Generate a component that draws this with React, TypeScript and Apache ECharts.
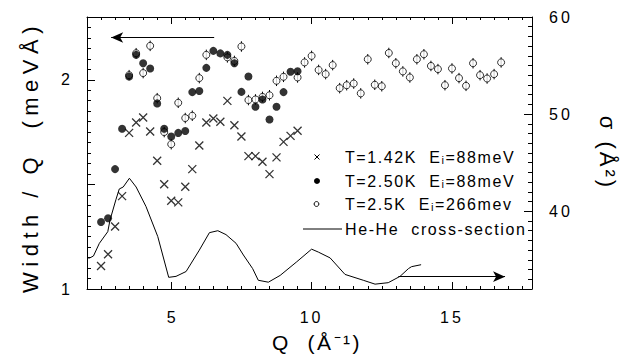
import { useEffect, useRef } from "react";
import * as echarts from "echarts";

// T = 1.42 K, Ei = 88 meV  (crosses)
const crossQ = [2.5, 2.75, 3, 3.25, 3.5, 3.75, 4, 4.25, 4.5, 4.75, 5, 5.25, 5.5, 5.75, 6, 6.25, 6.5, 6.75, 7, 7.25, 7.5, 7.75, 8, 8.25, 8.5, 8.75, 9, 9.25, 9.5];
const crossW = [1.110, 1.166, 1.299, 1.444, 1.746, 1.796, 1.820, 1.753, 1.613, 1.501, 1.422, 1.414, 1.489, 1.573, 1.686, 1.796, 1.815, 1.799, 1.899, 1.783, 1.729, 1.635, 1.635, 1.608, 1.549, 1.629, 1.703, 1.732, 1.756];

// T = 2.50 K, Ei = 88 meV  (filled circles)
const filledQ = [2.5, 2.75, 3, 3.25, 3.5, 3.75, 4, 4.25, 4.5, 4.75, 5, 5.25, 5.5, 5.75, 6, 6.25, 6.5, 6.75, 7, 7.25, 7.5, 7.75, 8, 8.25, 8.5, 8.75, 9, 9.25, 9.5];
const filledW = [1.320, 1.338, 1.573, 1.766, 2.016, 2.119, 2.079, 2.054, 1.887, 1.766, 1.729, 1.746, 1.755, 1.941, 1.946, 2.057, 2.138, 2.126, 2.119, 2.079, 1.942, 2.016, 1.871, 1.906, 1.810, 1.871, 1.941, 2.038, 2.041];

// T = 2.5 K, Ei = 266 meV  (open circles with error bars)
const openQ = [3.5, 3.75, 4, 4.25, 4.5, 4.75, 5, 5.25, 5.5, 5.75, 6, 6.25, 7, 7.25, 7.5, 7.75, 8, 8.25, 8.5, 8.75, 9, 9.5, 9.75, 10, 10.25, 10.5, 10.75, 11, 11.25, 11.5, 11.75, 12, 12.25, 12.5, 12.75, 13, 13.25, 13.5, 13.75, 14, 14.25, 14.5, 14.75, 15, 15.25, 15.5, 15.75, 16, 16.25, 16.5, 16.75];
const openW = [2.022, 2.127, 2.032, 2.162, 1.912, 1.750, 1.692, 1.890, 1.817, 1.828, 2.008, 2.119, 2.107, 2.090, 2.159, 1.903, 1.906, 1.918, 1.926, 1.995, 2.014, 2.011, 2.083, 2.114, 2.047, 2.027, 2.070, 1.960, 1.974, 1.982, 1.935, 2.098, 1.976, 1.969, 2.128, 2.079, 2.040, 2.011, 2.098, 2.122, 2.066, 2.051, 1.974, 2.054, 2.008, 1.971, 2.079, 2.022, 2.006, 2.027, 2.083];
const openErr = 0.025;

// He-He scattering cross-section (right axis, Å²)
const hhQ = [2.0, 2.1, 2.23, 2.44, 2.74, 2.82, 3.03, 3.15, 3.29, 3.51, 3.75, 4.1, 4.52, 4.91, 5.17, 5.53, 6.0, 6.36, 6.66, 6.95, 7.31, 7.57, 7.9, 8.1, 8.46, 8.88, 9.47, 10.0, 10.24, 10.66, 11.19, 11.84, 12.26, 12.73, 13.15, 13.45, 13.56, 13.9];
const hhSigma = [35.2, 35.2, 35.4, 36.7, 37.9, 39.1, 41.2, 42.3, 42.5, 43.4, 42.5, 40.5, 37.4, 33.2, 33.3, 33.8, 36.0, 37.8, 38.0, 37.6, 36.7, 35.5, 34.1, 32.9, 32.7, 33.4, 34.8, 36.1, 35.8, 35.2, 33.5, 32.9, 32.5, 32.65, 33.3, 34.1, 34.3, 34.5];

// axis ranges and tick labels
const Q_MIN = 2, Q_MAX = 17.85;
const W_MIN = 1, W_MAX = 2.3;
const S_MIN = 32, S_MAX = 60;
const qLabels = [5, 10, 15];
const wLabels = [1, 2];
const wMajor = [1, 1.5, 2];
const sLabels = [40, 50, 60];

// arrows telling which axis each data set belongs to
const leftArrow = { from: [6.53, 2.202], to: [2.86, 2.202] };
const rightArrow = { from: [13.09, 33.27], to: [16.89, 33.27] };

const legendRows = [
  "T=1.42K  Eᵢ=88meV",
  "T=2.50K  Eᵢ=88meV",
  "T=2.5K  Eᵢ=266mev",
  "He-He  cross-section",
];
const xTitle = "Q  (Å⁻¹)";
const yTitle = "Width / Q  (meVÅ)";
const y2Title = "σ (Å²)";

const FONT = "'Liberation Sans', Arial, Helvetica, sans-serif";
const INK = "#000";

// extra tracking used by the typeset lettering
const SPACING: Record<string, number> = {
  [yTitle]: 5.5,
  [xTitle]: 2.5,
  [y2Title]: 3,
  "10": 3,
  "15": 3,
  "40": 3,
  "50": 3,
  "60": 3,
};
legendRows.forEach((t) => (SPACING[t] = 1.6));

const zip = (a: number[], b: number[]) => a.map((v, i) => [v, b[i]]);

export default function App() {
  const ref = useRef<HTMLDivElement>(null);

  useEffect(() => {
    const el = ref.current!;
    const chart = echarts.init(el, undefined, { renderer: "svg" });

    const line = { color: INK, width: 1 };
    const label = { color: INK, fontSize: 16, fontFamily: FONT };

    const xBase = (position: "bottom" | "top", showLabel: boolean) => ({
      type: "value" as const,
      position,
      min: Q_MIN,
      max: Q_MAX,
      interval: 0.5,
      axisLine: { show: true, lineStyle: line },
      axisTick: { show: true, inside: true, length: 3, lineStyle: line },
      axisLabel: showLabel
        ? { show: true, customValues: qLabels, margin: 20, ...label }
        : { show: false },
      splitLine: { show: false },
    });
    const xMajor = (position: "bottom" | "top") => ({
      type: "value" as const,
      position,
      min: Q_MIN,
      max: Q_MAX,
      axisLine: { show: false },
      axisTick: { show: true, inside: true, length: 7, customValues: qLabels, lineStyle: line },
      axisLabel: { show: false },
      splitLine: { show: false },
    });

    const option: any = {
      animation: false,
      backgroundColor: "#fff",
      grid: { left: 87, right: 109, top: 17, bottom: 66, outerBoundsMode: "none" },
      xAxis: [xBase("bottom", true), xBase("top", false), xMajor("bottom"), xMajor("top")],
      yAxis: [
        {
          type: "value",
          position: "left",
          min: W_MIN,
          max: W_MAX,
          interval: 0.05,
          axisLine: { show: true, lineStyle: line },
          axisTick: { show: true, inside: true, length: 4, lineStyle: line },
          axisLabel: { show: true, customValues: wLabels, margin: 17, ...label },
          splitLine: { show: false },
        },
        {
          type: "value",
          position: "left",
          min: W_MIN,
          max: W_MAX,
          axisLine: { show: false },
          axisTick: { show: true, inside: true, length: 8, customValues: wMajor, lineStyle: line },
          axisLabel: { show: false },
          splitLine: { show: false },
        },
        {
          type: "value",
          position: "right",
          min: S_MIN,
          max: S_MAX,
          interval: 1,
          axisLine: { show: true, lineStyle: line },
          axisTick: { show: true, inside: true, length: 4, lineStyle: line },
          axisLabel: { show: true, customValues: sLabels, margin: 17, ...label },
          splitLine: { show: false },
        },
        {
          type: "value",
          position: "right",
          min: S_MIN,
          max: S_MAX,
          axisLine: { show: false },
          axisTick: { show: true, inside: true, length: 8, customValues: sLabels, lineStyle: line },
          axisLabel: { show: false },
          splitLine: { show: false },
        },
      ],
      series: [
        {
          name: "He-He cross-section",
          type: "line",
          xAxisIndex: 0,
          yAxisIndex: 2,
          data: zip(hhQ, hhSigma),
          showSymbol: false,
          symbol: "none",
          lineStyle: { color: INK, width: 1 },
          silent: true,
          markLine: {
            silent: true,
            symbol: ["none", "arrow"],
            symbolSize: [8, 12],
            label: { show: false },
            lineStyle: { color: INK, width: 1, type: "solid" },
            itemStyle: { color: INK },
            data: [[{ coord: rightArrow.from }, { coord: rightArrow.to }]],
          },
        },
        {
          name: "T=2.5K Ei=266mev",
          type: "scatter",
          xAxisIndex: 0,
          yAxisIndex: 0,
          data: zip(openQ, openW),
          symbol: "circle",
          symbolSize: 7,
          itemStyle: { color: "#fff", borderColor: INK, borderWidth: 1 },
          silent: true,
        },
        {
          name: "error bars",
          type: "custom",
          xAxisIndex: 0,
          yAxisIndex: 0,
          data: zip(openQ, openW),
          silent: true,
          renderItem: (_p: any, api: any) => {
            const q = api.value(0);
            const w = api.value(1);
            const a = api.coord([q, w + openErr]);
            const b = api.coord([q, w - openErr]);
            return {
              type: "line",
              shape: { x1: a[0], y1: a[1], x2: b[0], y2: b[1] },
              style: { stroke: INK, lineWidth: 1 },
            };
          },
        },
        {
          name: "T=2.50K Ei=88meV",
          type: "scatter",
          xAxisIndex: 0,
          yAxisIndex: 0,
          data: zip(filledQ, filledW),
          symbol: "circle",
          symbolSize: 8,
          itemStyle: { color: INK },
          silent: true,
        },
        {
          name: "T=1.42K Ei=88meV",
          type: "scatter",
          xAxisIndex: 0,
          yAxisIndex: 0,
          data: zip(crossQ, crossW),
          symbol: "path://M0,0L10,10M10,0L0,10",
          symbolSize: 8,
          itemStyle: { color: "none", borderColor: INK, borderWidth: 1.3 },
          silent: true,
          markLine: {
            silent: true,
            symbol: ["none", "arrow"],
            symbolSize: [8, 12],
            label: { show: false },
            lineStyle: { color: INK, width: 1, type: "solid" },
            itemStyle: { color: INK },
            data: [[{ coord: leftArrow.from }, { coord: leftArrow.to }]],
          },
        },
      ],
      graphic: [
        // legend
        { type: "line", shape: { x1: 314.5, y1: 154.5, x2: 319.5, y2: 159.5 }, style: { stroke: INK, lineWidth: 1 } },
        { type: "line", shape: { x1: 319.5, y1: 154.5, x2: 314.5, y2: 159.5 }, style: { stroke: INK, lineWidth: 1 } },
        { type: "circle", shape: { cx: 317, cy: 181, r: 3 }, style: { fill: INK } },
        { type: "circle", shape: { cx: 316.5, cy: 204, r: 2.4 }, style: { fill: "#fff", stroke: INK, lineWidth: 1 } },
        { type: "line", shape: { x1: 303, y1: 229, x2: 342, y2: 229 }, style: { stroke: INK, lineWidth: 1 } },
        ...legendRows.map((t, i) => ({
          type: "text",
          x: 345,
          y: [157, 181, 204, 229][i],
          style: { text: t, fontSize: 16, fontFamily: FONT, fill: INK, textAlign: "left", textVerticalAlign: "middle" },
        })),
        // axis titles
        {
          type: "text",
          x: 30,
          y: 157,
          rotation: Math.PI / 2,
          style: { text: yTitle, fontSize: 22, fontFamily: FONT, fill: INK, textAlign: "center", textVerticalAlign: "middle" },
        },
        {
          type: "text",
          x: 607,
          y: 153,
          rotation: -Math.PI / 2,
          style: { text: y2Title, fontSize: 22, fontFamily: FONT, fill: INK, textAlign: "center", textVerticalAlign: "middle" },
        },
        {
          type: "text",
          x: 317,
          y: 342,
          style: { text: xTitle, fontSize: 21, fontFamily: FONT, fill: INK, textAlign: "center", textVerticalAlign: "middle" },
        },
      ],
    };

    chart.setOption(option);

    const track = () => {
      el.querySelectorAll("text").forEach((t) => {
        const s = SPACING[t.textContent ?? ""];
        if (s) t.setAttribute("letter-spacing", String(s));
      });
    };
    track();
    chart.on("finished", track);

    return () => chart.dispose();
  }, []);

  return (
    <div
      ref={ref}
      style={{ position: "absolute", left: 0, top: 0, width: 641, height: 355, background: "#fff" }}
    />
  );
}
